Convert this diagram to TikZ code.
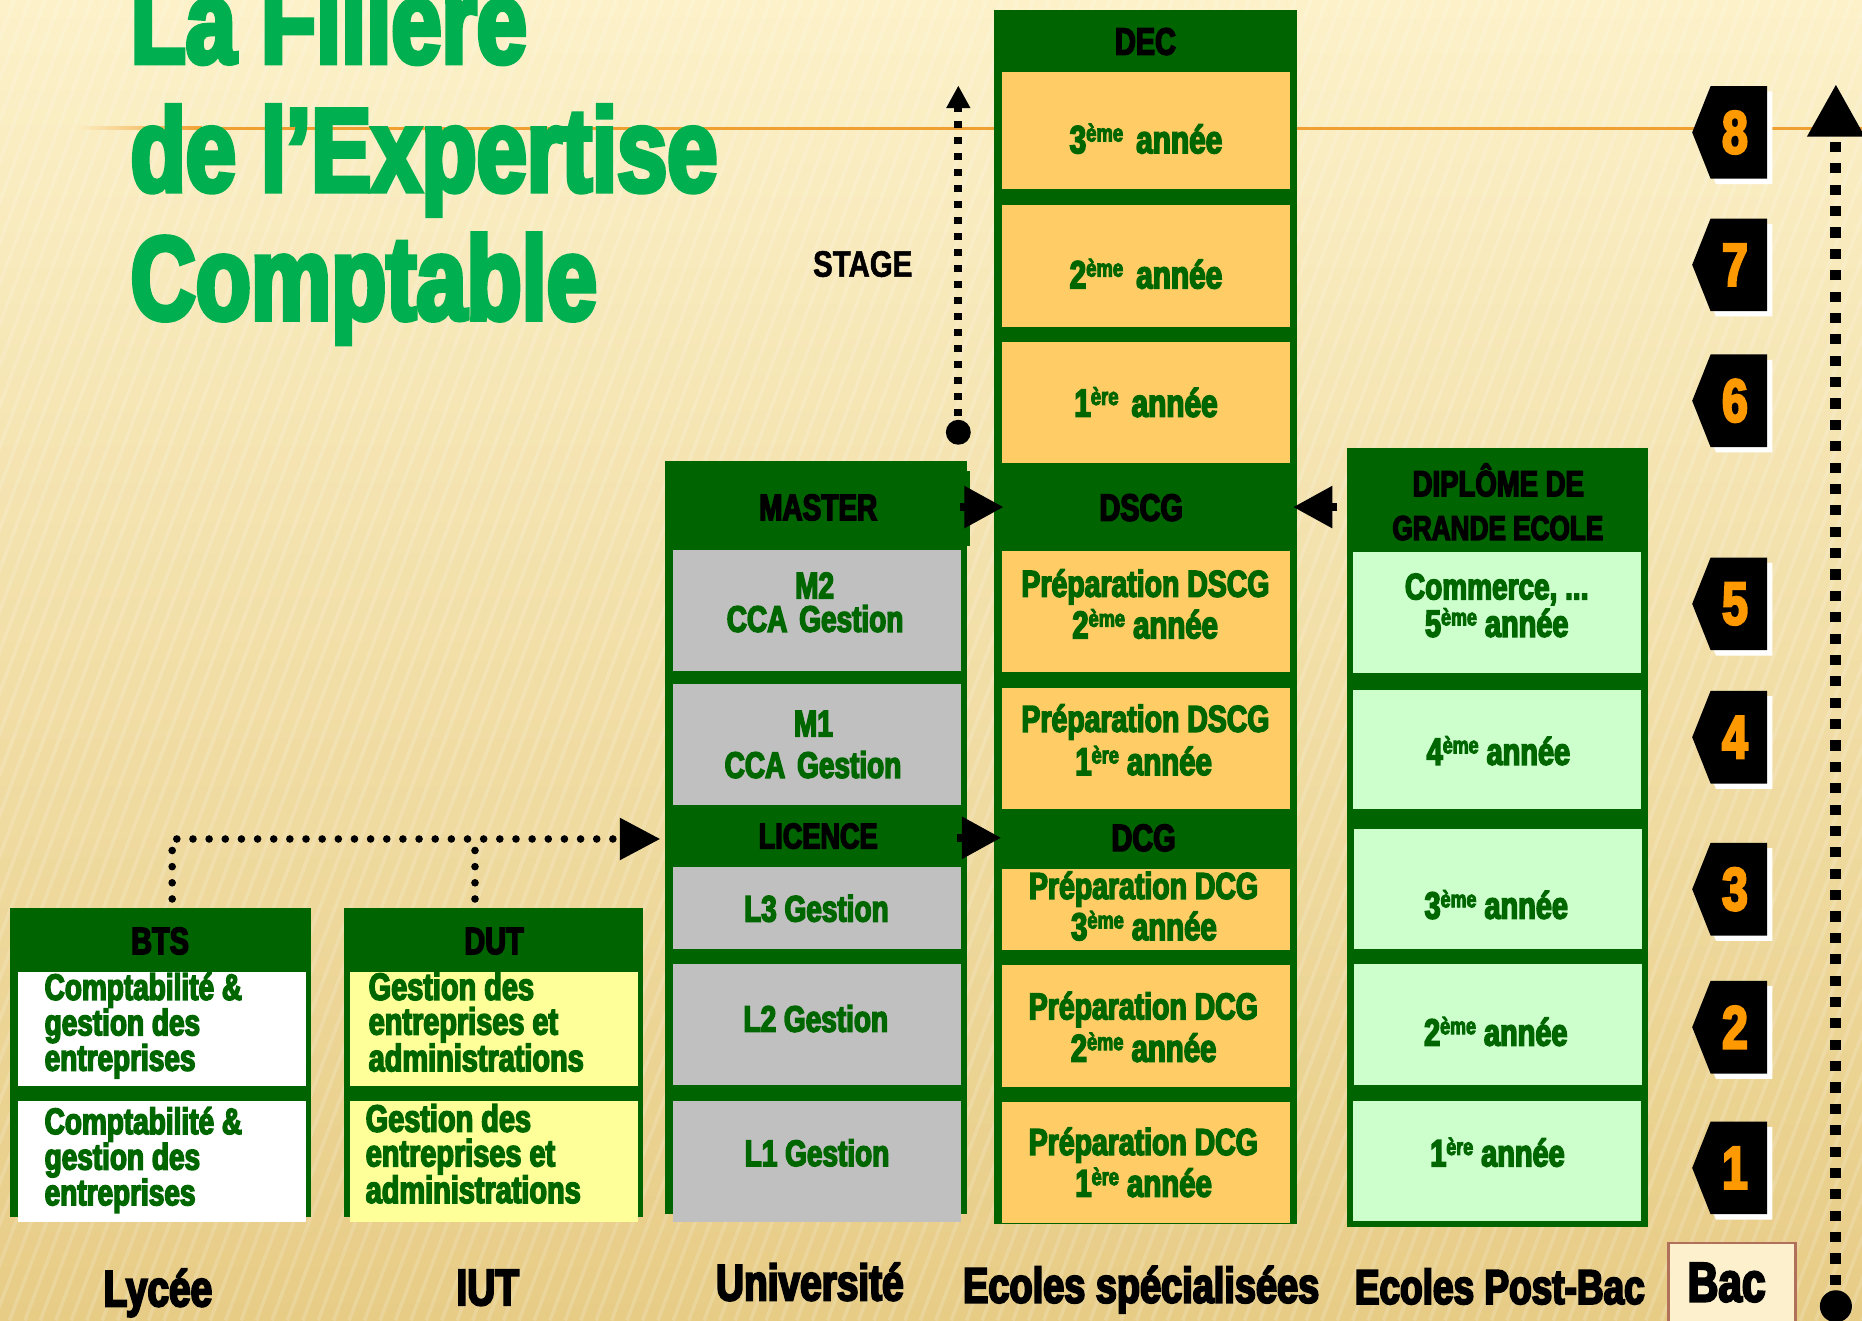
\documentclass[tikz,border=0pt]{standalone}
\usepackage{fontspec}
\usepackage{graphicx}
\usetikzlibrary{arrows.meta}
\newfontfamily\imp[FakeStretch=0.76,FakeBold=4]{Liberation Sans Bold}
\newfontfamily\stg[FakeStretch=0.8,FakeBold=1.5]{Liberation Sans Bold}
\definecolor{bgtop}{HTML}{FCF1C9}
\definecolor{bgmid}{HTML}{F6E4AE}
\definecolor{bgbot}{HTML}{E7CC86}
\definecolor{colg}{HTML}{006400}
\definecolor{tg}{HTML}{006600}
\definecolor{boxor}{HTML}{FFCC66}
\definecolor{boxgr}{HTML}{C0C0C0}
\definecolor{boxlg}{HTML}{CCFFCC}
\definecolor{boxye}{HTML}{FFFF99}
\definecolor{titleg}{HTML}{00B050}
\definecolor{digor}{HTML}{FF9900}
\definecolor{lineor}{HTML}{F0A030}
\definecolor{bacbrd}{HTML}{B0705A}
\definecolor{baccr}{HTML}{FDF0CC}
\newcommand\ord[1]{\raisebox{0.3em}{\scalebox{0.62}{#1}}}
\newcommand\tl[6]{\node[txt, text=#6, text height={#5*0.72}, text depth={#5*0.14}, font={\imp\fontsize{#5}{#5}\selectfont}] (#1) at (#2,#3) {#4};}
\newcommand\ml[6]{\node[txt, anchor=base west, text width=226, align=left, text=tg, font={\imp\fontsize{#4}{#5}\selectfont}] (#1) at (#2,#3) {\spaceskip=0pt\relax\xspaceskip=0pt\relax #6};}
\newcommand\ytag[3]{%
 \fill[white] (1445,#3-34.5) -- (1492.5,#3-34.5) -- (1492.5,#3+43.5) -- (1445,#3+43.5) -- (1429.5,#3+4.5) -- cycle;
 \fill[black] (1440.5,#3-39) -- (1488,#3-39) -- (1488,#3+39) -- (1440.5,#3+39) -- (1425,#3) -- cycle;
 \node[digit] (#1) at (1461,#3) {#2};}
\tikzset{
 txt/.style={anchor=base, inner sep=0, outer sep=0},
 digit/.style={inner sep=0, outer sep=0, text=digor, font={\imp\fontsize{51}{51}\selectfont}},
 solidarr/.style={line width=6.7, -{Triangle[length=33pt,width=34pt]}},
 dotline/.style={line width=6.4, line cap=round, dash pattern=on 0pt off 13.6pt},
 yeararr/.style={line width=9.3, dash pattern=on 8.5pt off 9.5pt, -{Triangle[length=44pt,width=46pt]}},
 stagearr/.style={line width=6.5, dash pattern=on 6pt off 7.5pt, -{Triangle[length=19pt,width=19pt]}},
 blackdot/.style={circle, fill=black, inner sep=0, outer sep=0}
}
\begin{document}
\begin{tikzpicture}[x=1pt,y=-1pt]
\useasboundingbox (0,0) rectangle (1568,1111.6);
\clip (0,0) rectangle (1568,1111.6);
% background
\shade[top color=bgtop, middle color=bgmid, bottom color=bgbot] (0,0) rectangle (1568,1111.6);
\foreach \i in {0,...,160} {
  \draw[white, opacity=0.16, line width=3] ({-460+\i*13},1112) -- ({\i*13-40},0);
}
% orange rule
\shade[left color=bgtop, right color=lineor] (60,106.75) rectangle (170,109.25);
\draw[lineor, line width=2.5] (170,108) -- (1568,108);
% title
\node[txt, anchor=base west, text=titleg, font={\imp\fontsize{100}{100}\selectfont}] (title1) at (110,53) {La Filière};
\node[txt, anchor=base west, text=titleg, font={\imp\fontsize{100}{100}\selectfont}] (title2) at (110,161) {de l’Expertise};
\node[txt, anchor=base west, text=titleg, font={\imp\fontsize{100}{100}\selectfont}] (title3) at (110,269) {Comptable};
\node[txt, font={\stg\fontsize{31}{31}\selectfont}] (stage) at (726.5,233) {STAGE};
% columns
\fill[colg] (8,765) rectangle (262,1025);
\fill[colg] (289.5,765) rectangle (541.5,1025);
\fill[colg] (560,388) rectangle (814,1022);
\fill[colg] (814,397) rectangle (817,460);
\fill[colg] (837,8) rectangle (1092,1031);
\fill[colg] (1134,377) rectangle (1388,1033);
% BTS / DUT boxes
\fill[white] (15,818.5) rectangle (257.6,914.5);
\fill[white] (15,927) rectangle (257.6,1029);
\fill[boxye] (295,818.5) rectangle (537,914.5);
\fill[boxye] (295,927) rectangle (537,1029);
% university boxes
\fill[boxgr] (567,463) rectangle (809,565);
\fill[boxgr] (567,576) rectangle (809,678);
\fill[boxgr] (567,730) rectangle (809,799);
\fill[boxgr] (567,812) rectangle (809,914);
\fill[boxgr] (567,927) rectangle (809,1029);
% specialised schools boxes
\fill[boxor] (843.5,61) rectangle (1086,159);
\fill[boxor] (843.5,173) rectangle (1086,275);
\fill[boxor] (843.5,288) rectangle (1086,390);
\fill[boxor] (844,464) rectangle (1086,566);
\fill[boxor] (844,579) rectangle (1086,681);
\fill[boxor] (844,732) rectangle (1086,800);
\fill[boxor] (844,813) rectangle (1086,915);
\fill[boxor] (844,928) rectangle (1086,1030);
% grande ecole boxes
\fill[boxlg] (1139,465) rectangle (1382,567);
\fill[boxlg] (1139,581) rectangle (1382,681);
\fill[boxlg] (1140,698) rectangle (1383,799);
\fill[boxlg] (1140,812) rectangle (1383,914);
\fill[boxlg] (1139,927) rectangle (1382,1028);
% headers
\tl{hdec}{964.6}{46}{DEC}{32}{black}
\tl{hmaster}{689}{438}{MASTER}{31}{black}
\tl{hdscg}{961}{438.5}{DSCG}{32}{black}
\tl{hlic}{689}{714.4}{LICENCE}{30}{black}
\tl{hdcg}{963}{716.6}{DCG}{32}{black}
\tl{hbts}{134.8}{803.4}{BTS}{32}{black}
\tl{hdut}{416}{803.4}{DUT}{32}{black}
\tl{hgea}{1261.7}{417.8}{DIPLÔME DE}{30.5}{black}
\tl{hgeb}{1261.4}{454.7}{GRANDE ECOLE}{29}{black}
% DEC / DSCG / DCG texts
\tl{deca}{965}{129}{3\ord{ème}\hspace{4pt} année}{33}{tg}
\tl{decb}{965}{242.8}{2\ord{ème}\hspace{4pt} année}{33}{tg}
\tl{decc}{965}{350.9}{1\ord{ère}\hspace{4pt} année}{33}{tg}
\tl{psba}{964.6}{502.5}{Préparation DSCG}{31.5}{tg}
\tl{psbb}{964.3}{537.5}{2\ord{ème} année}{32.5}{tg}
\tl{psaa}{964.6}{616.2}{Préparation DSCG}{31.5}{tg}
\tl{psab}{963}{652.6}{1\ord{ère} année}{32.5}{tg}
\tl{pdca}{963}{757}{Préparation DCG}{31.5}{tg}
\tl{pdcb}{963.3}{791.6}{3\ord{ème} année}{32.5}{tg}
\tl{pdba}{962.8}{858.4}{Préparation DCG}{31.5}{tg}
\tl{pdbb}{963}{894}{2\ord{ème} année}{32.5}{tg}
\tl{pdaa}{962.8}{972.6}{Préparation DCG}{31.5}{tg}
\tl{pdab}{963}{1007.7}{1\ord{ère} année}{32.5}{tg}
% university texts
\tl{mba}{686}{503.8}{M2}{31}{tg}
\tl{mbb}{686.4}{532}{CCA\hspace{10pt}Gestion}{31}{tg}
\tl{maa}{685}{620}{M1}{31}{tg}
\tl{mab}{684.6}{655}{CCA\hspace{10pt}Gestion}{31}{tg}
\tl{lc}{687.5}{776}{L3 Gestion}{31}{tg}
\tl{lb}{687}{868.8}{L2 Gestion}{31}{tg}
\tl{la}{688}{981.9}{L1 Gestion}{31}{tg}
% grande ecole texts
\tl{geea}{1260.4}{504.7}{Commerce, ...}{31}{tg}
\tl{geeb}{1260.4}{536.2}{5\ord{ème} année}{32}{tg}
\tl{ged}{1261.8}{644}{4\ord{ème} année}{32}{tg}
\tl{gec}{1260}{773.6}{3\ord{ème} année}{32}{tg}
\tl{geb}{1259.6}{880.5}{2\ord{ème} année}{32}{tg}
\tl{gea}{1261}{982.2}{1\ord{ère} année}{32}{tg}
% BTS / DUT texts
\ml{bta}{37.6}{842}{31}{29.8}{Comptabilité \&\\gestion des\\entreprises}
\ml{bub}{37.6}{955}{31}{27.8}{Comptabilité \&\\gestion des\\entreprises}
\ml{dta}{310.5}{842}{32}{29.2}{Gestion des\\entreprises et\\administrations}
\ml{dub}{308}{953}{32}{29.2}{Gestion des\\entreprises et\\administrations}
% bottom labels
\tl{lyc}{133}{1100}{Lycée}{43}{black}
\tl{iut}{410.7}{1099}{IUT}{43}{black}
\tl{univ}{682}{1095}{Université}{43}{black}
\tl{ecs}{961}{1097}{Ecoles spécialisées}{42}{black}
\tl{ecpb}{1263}{1098}{Ecoles Post-Bac}{41}{black}
\draw[draw=bacbrd, fill=baccr, line width=2] (1405,1046.5) rectangle (1512,1125);
\tl{bac}{1454}{1096}{Bac}{47}{black}
% connectors
\coordinate (mE) at (808,427); \coordinate (dsW) at (845,427);
\draw[solidarr] (mE) -- (dsW);
\coordinate (lE) at (806,705.5); \coordinate (dcW) at (843,705.5);
\draw[solidarr] (lE) -- (dcW);
\coordinate (geW) at (1126,427); \coordinate (dsE) at (1089,427);
\draw[solidarr] (geW) -- (dsE);
\coordinate (btsup) at (145,757); \coordinate (dutup) at (400,757);
\coordinate (licW) at (556,706.5);
\draw[dotline, -{Triangle[length=34pt,width=34pt]}] (btsup) |- (licW);
\draw[dotline] (dutup) -- (dutup |- licW);
\node[blackdot, minimum size=21] (stagedot) at (807,364) {};
\coordinate (stagetop) at (807,72);
\draw[stagearr] (stagedot.center) -- (stagetop);
\node[blackdot, minimum size=27] (bacdot) at (1546,1100) {};
\coordinate (yeartop) at (1546,71);
\draw[yeararr] (bacdot.center) -- (yeartop);
% year tags
\ytag{tagh}{8}{111.5}
\ytag{tagg}{7}{223}
\ytag{tagf}{6}{337.5}
\ytag{tage}{5}{508.5}
\ytag{tagd}{4}{620.8}
\ytag{tagc}{3}{748.8}
\ytag{tagb}{2}{865}
\ytag{taga}{1}{983.5}
\end{tikzpicture}
\end{document}
